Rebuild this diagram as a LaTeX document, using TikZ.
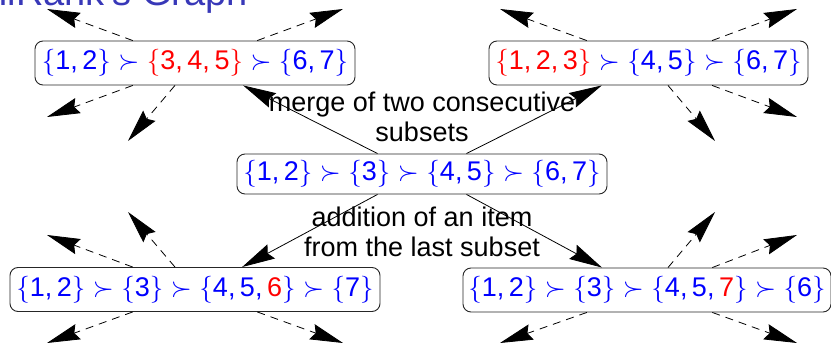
\RequirePackage{fix-cm}
\documentclass[tikz,border=0pt]{standalone}
\usepackage{fontspec}
\setmainfont{Liberation Sans}
\usetikzlibrary{arrows.meta,calc}
\definecolor{titleblue}{rgb}{0.22,0.22,0.72}
\newcommand{\bs}[1]{$\{$#1$\}$}
\newcommand{\sucm}{$\;\succ\;$}
\tikzset{
  state/.style={draw=black!85, line width=0.9pt, rounded corners=8pt, text=blue,
    font=\fontsize{27}{32}\selectfont, minimum height=44pt, inner sep=0pt},
  lab/.style={font=\fontsize{27}{30}\selectfont, align=center, text=black, inner sep=0pt},
  solidarrow/.style={-{Stealth[length=33pt,width=16pt,inset=4pt]}, line width=0.8pt},
  dasharrow/.style={solidarrow, dash pattern=on 8pt off 6pt},
}
\begin{document}
\begin{tikzpicture}[x=1pt,y=-1pt]
\useasboundingbox (0,0) rectangle (831,344);
\clip (0,0) rectangle (831,344);
% title (cut off at top)
\node[anchor=base east, text=titleblue, font=\fontsize{38}{40}\selectfont, inner sep=0pt] (title) at (248,6) {niRank's Graph};
% states
\node[state, minimum width=320pt] (A) at (195,63) {\bs{1,\,2}\sucm\textcolor{red}{\bs{3,\,4,\,5}}\sucm\bs{6,\,7}};
\node[state, minimum width=319pt] (B) at (648.5,63) {\textcolor{red}{\bs{1,\,2,\,3}}\sucm\bs{4,\,5}\sucm\bs{6,\,7}};
\node[state, minimum width=370pt, minimum height=40pt] (C) at (422,174) {\bs{1,\,2}\sucm\bs{3}\sucm\bs{4,\,5}\sucm\bs{6,\,7}};
\node[state, minimum width=370pt] (D) at (195,289.5) {\bs{1,\,2}\sucm\bs{3}\sucm\bs{4,\,5,\,\textcolor{red}{6}}\sucm\bs{7}};
\node[state, minimum width=368pt] (E) at (647,290) {\bs{1,\,2}\sucm\bs{3}\sucm\bs{4,\,5,\,\textcolor{red}{7}}\sucm\bs{6}};
% labels
\node[lab] (merge) at (422,117) {merge of two consecutive\\subsets};
\node[lab] (addit) at (422,232) {addition of an item\\from the last subset};
% solid connectors
\draw[solidarrow] ($(C.north west)!0.38!(C.north east)$) -- ($(A.south west)!0.65!(A.south east)$);
\draw[solidarrow] ($(C.north west)!0.62!(C.north east)$) -- ($(B.south west)!0.354!(B.south east)$);
\draw[solidarrow] ($(C.south west)!0.38!(C.south east)$) -- ($(D.north west)!0.627!(D.north east)$);
\draw[solidarrow] ($(C.south west)!0.62!(C.south east)$) -- ($(E.north west)!0.378!(E.north east)$);
% free ends
\coordinate (a1) at (47,9);   \coordinate (a2) at (343,9);
\coordinate (a3) at (47,117); \coordinate (a4) at (128,141);
\coordinate (b1) at (500,9);  \coordinate (b2) at (797,9);
\coordinate (b3) at (715,141);\coordinate (b4) at (797,117);
\coordinate (d1) at (47,235); \coordinate (d2) at (128,212);
\coordinate (d3) at (47,343); \coordinate (d4) at (343,343);
\coordinate (e1) at (715,212);\coordinate (e2) at (797,235);
\coordinate (e3) at (500,343);\coordinate (e4) at (797,343);
% dashed connectors
\draw[dasharrow] ($(A.north west)!0.306!(A.north east)$) -- (a1);
\draw[dasharrow] ($(A.north west)!0.694!(A.north east)$) -- (a2);
\draw[dasharrow] ($(A.south west)!0.306!(A.south east)$) -- (a3);
\draw[dasharrow] ($(A.south west)!0.4375!(A.south east)$) -- (a4);
\draw[dasharrow] ($(B.north west)!0.307!(B.north east)$) -- (b1);
\draw[dasharrow] ($(B.north west)!0.699!(B.north east)$) -- (b2);
\draw[dasharrow] ($(B.south west)!0.561!(B.south east)$) -- (b3);
\draw[dasharrow] ($(B.south west)!0.699!(B.south east)$) -- (b4);
\draw[dasharrow] ($(D.north west)!0.332!(D.north east)$) -- (d1);
\draw[dasharrow] ($(D.north west)!0.446!(D.north east)$) -- (d2);
\draw[dasharrow] ($(D.south west)!0.332!(D.south east)$) -- (d3);
\draw[dasharrow] ($(D.south west)!0.668!(D.south east)$) -- (d4);
\draw[dasharrow] ($(E.north west)!0.557!(E.north east)$) -- (e1);
\draw[dasharrow] ($(E.north west)!0.677!(E.north east)$) -- (e2);
\draw[dasharrow] ($(E.south west)!0.337!(E.south east)$) -- (e3);
\draw[dasharrow] ($(E.south west)!0.677!(E.south east)$) -- (e4);
\end{tikzpicture}
\end{document}
